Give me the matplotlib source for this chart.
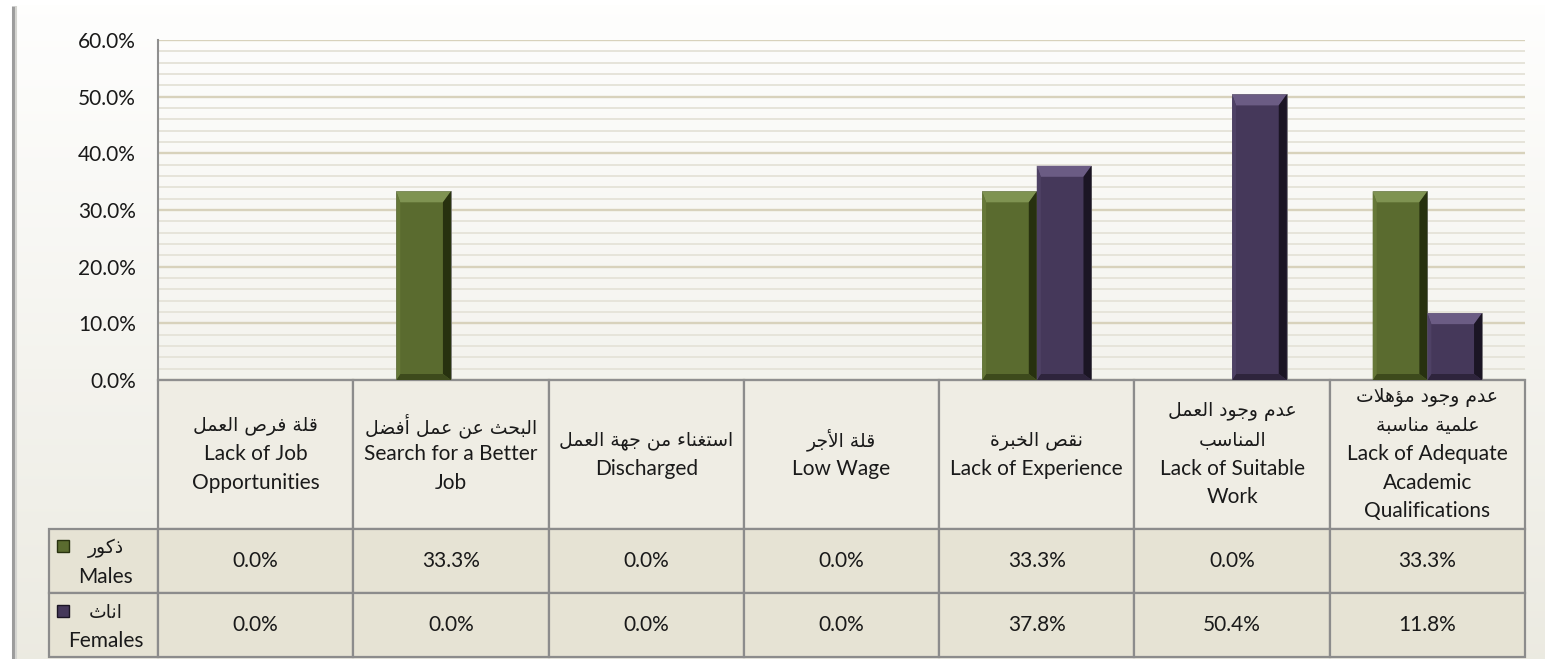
import numpy as np
import matplotlib
matplotlib.use("Agg")
import matplotlib.pyplot as plt
from matplotlib.patches import Polygon, Rectangle
from matplotlib.transforms import IdentityTransform, offset_copy
from matplotlib.ticker import MultipleLocator, FuncFormatter
from matplotlib.table import Table

# ---------------- data ----------------
cats_ar = ["قلة فرص العمل", "البحث عن عمل أفضل", "استغناء من جهة العمل", "قلة الأجر",
           "نقص الخبرة", "عدم وجود العمل\nالمناسب", "عدم وجود مؤهلات\nعلمية مناسبة"]
cats_en = ["Lack of Job\nOpportunities", "Search for a Better\nJob", "Discharged", "Low Wage",
           "Lack of Experience", "Lack of Suitable\nWork", "Lack of Adequate\nAcademic\nQualifications"]
series_ar = ["ذكور", "اناث"]
series_en = ["Males", "Females"]
males = [0.0, 33.3, 0.0, 0.0, 33.3, 0.0, 33.3]
females = [0.0, 0.0, 0.0, 0.0, 37.8, 50.4, 11.8]
yticks = [0, 10, 20, 30, 40, 50, 60]

# ---------------- minimal Arabic shaping ----------------
_FORMS = {
    '\u0621': (0xFE80, 1), '\u0622': (0xFE81, 2), '\u0623': (0xFE83, 2), '\u0624': (0xFE85, 2),
    '\u0625': (0xFE87, 2), '\u0626': (0xFE89, 4), '\u0627': (0xFE8D, 2), '\u0628': (0xFE8F, 4),
    '\u0629': (0xFE93, 2), '\u062A': (0xFE95, 4), '\u062B': (0xFE99, 4), '\u062C': (0xFE9D, 4),
    '\u062D': (0xFEA1, 4), '\u062E': (0xFEA5, 4), '\u062F': (0xFEA9, 2), '\u0630': (0xFEAB, 2),
    '\u0631': (0xFEAD, 2), '\u0632': (0xFEAF, 2), '\u0633': (0xFEB1, 4), '\u0634': (0xFEB5, 4),
    '\u0635': (0xFEB9, 4), '\u0636': (0xFEBD, 4), '\u0637': (0xFEC1, 4), '\u0638': (0xFEC5, 4),
    '\u0639': (0xFEC9, 4), '\u063A': (0xFECD, 4), '\u0641': (0xFED1, 4), '\u0642': (0xFED5, 4),
    '\u0643': (0xFED9, 4), '\u0644': (0xFEDD, 4), '\u0645': (0xFEE1, 4), '\u0646': (0xFEE5, 4),
    '\u0647': (0xFEE9, 4), '\u0648': (0xFEED, 2), '\u0649': (0xFEEF, 2), '\u064A': (0xFEF1, 4),
}
_LAM_ALEF = {'\u0622': (0xFEF5, 2), '\u0623': (0xFEF7, 2), '\u0625': (0xFEF9, 2), '\u0627': (0xFEFB, 2)}


def shape_line(s):
    toks = []
    i = 0
    while i < len(s):
        c = s[i]
        if c == '\u0644' and i + 1 < len(s) and s[i + 1] in _LAM_ALEF:
            toks.append(('L', _LAM_ALEF[s[i + 1]]))
            i += 2
        elif c in _FORMS:
            toks.append(('L', _FORMS[c]))
            i += 1
        else:
            toks.append(('O', c))
            i += 1
    out = []
    for k, (kind, val) in enumerate(toks):
        if kind == 'O':
            out.append(val)
            continue
        base, n = val
        prev = toks[k - 1] if k > 0 else None
        nxt = toks[k + 1] if k + 1 < len(toks) else None
        jp = prev is not None and prev[0] == 'L' and prev[1][1] == 4
        jn = n == 4 and nxt is not None and nxt[0] == 'L'
        if n == 1:
            off = 0
        elif jp and jn:
            off = 3
        elif jp:
            off = 1
        elif jn:
            off = 2
        else:
            off = 0
        out.append(chr(base + off))
    return ''.join(reversed(out))


# ---------------- figure ----------------
W, H = 1547, 659
FONT = ['Lato', 'DejaVu Sans']
AR_FONT = ['DejaVu Sans']
FS = 15
FS_AR = 13.5
TXT = '#1a1a1a'
plt.rcParams['font.family'] = FONT
fig = plt.figure(figsize=(W / 100, H / 100), dpi=100)
fig.patch.set_facecolor('white')

# background gradient + left shadow
bg = fig.add_axes([0, 0, 1, 1], zorder=-10)
bg.set_xlim(0, W)
bg.set_ylim(H, 0)
bg.axis('off')
g = np.linspace(0, 1, 256)[:, None, None]
top_c = np.array([0.997, 0.997, 0.994])
bot_c = np.array([0.925, 0.92, 0.885])
img = top_c + (bot_c - top_c) * g
bg.imshow(img, aspect='auto', extent=(14, W - 2, H, 5), origin='upper', interpolation='bilinear')
bg.plot([13, 13], [6, H], color='#9c9c9c', lw=2.2, solid_capstyle='butt')
bg.plot([15.5, 15.5], [6, H], color='#d4d4d0', lw=1.5, solid_capstyle='butt')

# main axes
ax_l, ax_r, ax_t, ax_b = 158, 1525, 40, 380
ax = fig.add_axes([ax_l / W, (H - ax_b) / H, (ax_r - ax_l) / W, (ax_b - ax_t) / H])
ax.patch.set_alpha(0)
ax.set_xlim(-0.5, len(cats_en) - 0.5)
ax.set_ylim(0, 60)
ax.set_autoscale_on(False)

ax.set_yticks(yticks)
ax.yaxis.set_major_formatter(FuncFormatter(lambda v, p: f"{v:.1f}%"))
ax.yaxis.set_minor_locator(MultipleLocator(2))
ax.tick_params(axis='y', which='both', length=0, pad=16, labelsize=FS, labelcolor=TXT)
ax.set_xticks([])
ax.grid(which='major', axis='y', color='#d8d2bc', lw=1.7)
ax.grid(which='minor', axis='y', color='#e6e4da', lw=1.4)
ax.set_axisbelow(True)
for s in ['top', 'right']:
    ax.spines[s].set_visible(False)
ax.spines['left'].set_color('#8f8f8f')
ax.spines['left'].set_linewidth(1.5)
ax.spines['bottom'].set_color('#8f8f8f')
ax.spines['bottom'].set_linewidth(1.5)

x = np.arange(len(cats_en))
bw = 0.28
green = dict(face='#5a6b2f', top='#7f9352', right='#27310f', bottom='#3d4a1c', left='#667838')
purple = dict(face='#45385a', top='#6b5c84', right='#1b1524', bottom='#2e243c', left='#4e4165')
bars_m = ax.bar(x - bw / 2, males, bw, color=green['face'], edgecolor='#7a7a7a', lw=0.6, zorder=3)
bars_f = ax.bar(x + bw / 2, females, bw, color=purple['face'], edgecolor='#7a7a7a', lw=0.6, zorder=3)

bt, br, bb, bl = 11, 8, 6, 4
for bars, pal in [(bars_m, green), (bars_f, purple)]:
    for p in bars:
        if p.get_height() <= 0:
            continue
        x0, y0 = ax.transData.transform((p.get_x(), 0))
        x1, y1 = ax.transData.transform((p.get_x() + p.get_width(), p.get_height()))
        polys = [
            ([(x0, y1), (x1, y1), (x1 - br, y1 - bt), (x0 + bl, y1 - bt)], pal['top']),
            ([(x1, y1), (x1, y0), (x1 - br, y0 + bb), (x1 - br, y1 - bt)], pal['right']),
            ([(x0, y0), (x1, y0), (x1 - br, y0 + bb), (x0 + bl, y0 + bb)], pal['bottom']),
            ([(x0, y0), (x0, y1), (x0 + bl, y1 - bt), (x0 + bl, y0 + bb)], pal['left']),
        ]
        for pts, col in polys:
            ax.add_patch(Polygon(pts, closed=True, facecolor=col, edgecolor='none',
                                 transform=IdentityTransform(), zorder=4))

# data table (bbox covers the data columns; the row-label column sits to its left)
axw = ax_r - ax_l
axh = ax_b - ax_t
rlw = 109 / axw
tab_h = 277 / axh
HDR_H, ROW_H = 148, 64
hdr_frac = tab_h * HDR_H / (HDR_H + 2 * ROW_H)
row_frac = tab_h * ROW_H / (HDR_H + 2 * ROW_H)
rows_vals = [males, females]

tb = Table(ax, bbox=[0, -tab_h, 1, tab_h])
tb.auto_set_font_size(False)
for c in range(len(cats_en)):
    tb.add_cell(0, c, width=1 / 7, height=HDR_H, text='', loc='center', facecolor='#efede4')
for r, vals in enumerate(rows_vals, start=1):
    tb.add_cell(r, -1, width=rlw, height=ROW_H, text='', loc='center', facecolor='#e6e3d4')
    for c, v in enumerate(vals):
        tb.add_cell(r, c, width=1 / 7, height=ROW_H, text=f"{v:.1f}%", loc='center',
                    facecolor='#e6e3d4')
for (r, c), cell in tb.get_celld().items():
    cell.set_edgecolor('#8c8c8c')
    cell.set_linewidth(1.6)
    t = cell.get_text()
    t.set_fontfamily(FONT)
    t.set_fontsize(FS)
    t.set_color(TXT)
ax.add_table(tb)


def stacked_lines(xc, yc, ar, en, pitch, dx=0, dy0=0):
    """Arabic lines above English lines, block centred on (xc, yc) in axes coords."""
    lines = [(shape_line(l), AR_FONT, FS_AR) for l in ar.split('\n')] + \
            [(l, FONT, FS) for l in en.split('\n')]
    n = len(lines)
    for i, (s, fam, fs) in enumerate(lines):
        dy = (n / 2 - (i + 0.5)) * pitch + dy0
        tr = offset_copy(ax.transAxes, fig=fig, x=dx, y=dy, units='dots')
        ax.text(xc, yc, s, transform=tr, ha='center', va='center', fontfamily=fam,
                fontsize=fs, color=TXT, clip_on=False, zorder=10)


for c, (a, e) in enumerate(zip(cats_ar, cats_en)):
    stacked_lines((c + 0.5) / 7, -hdr_frac / 2, a, e, 28.5)
for r, (a, e) in enumerate(zip(series_ar, series_en), start=1):
    stacked_lines(-rlw / 2, -(hdr_frac + (r - 0.5) * row_frac), a, e, 29, dx=2, dy0=-2)

# legend keys in the row-label cells
for (ytop, pal) in [(540, green), (605, purple)]:
    fig.add_artist(Rectangle((57, H - ytop - 12), 12, 12, facecolor=pal['face'],
                             edgecolor=pal['right'], lw=1.0, transform=IdentityTransform()))

fig.savefig('out.png', dpi=100)
